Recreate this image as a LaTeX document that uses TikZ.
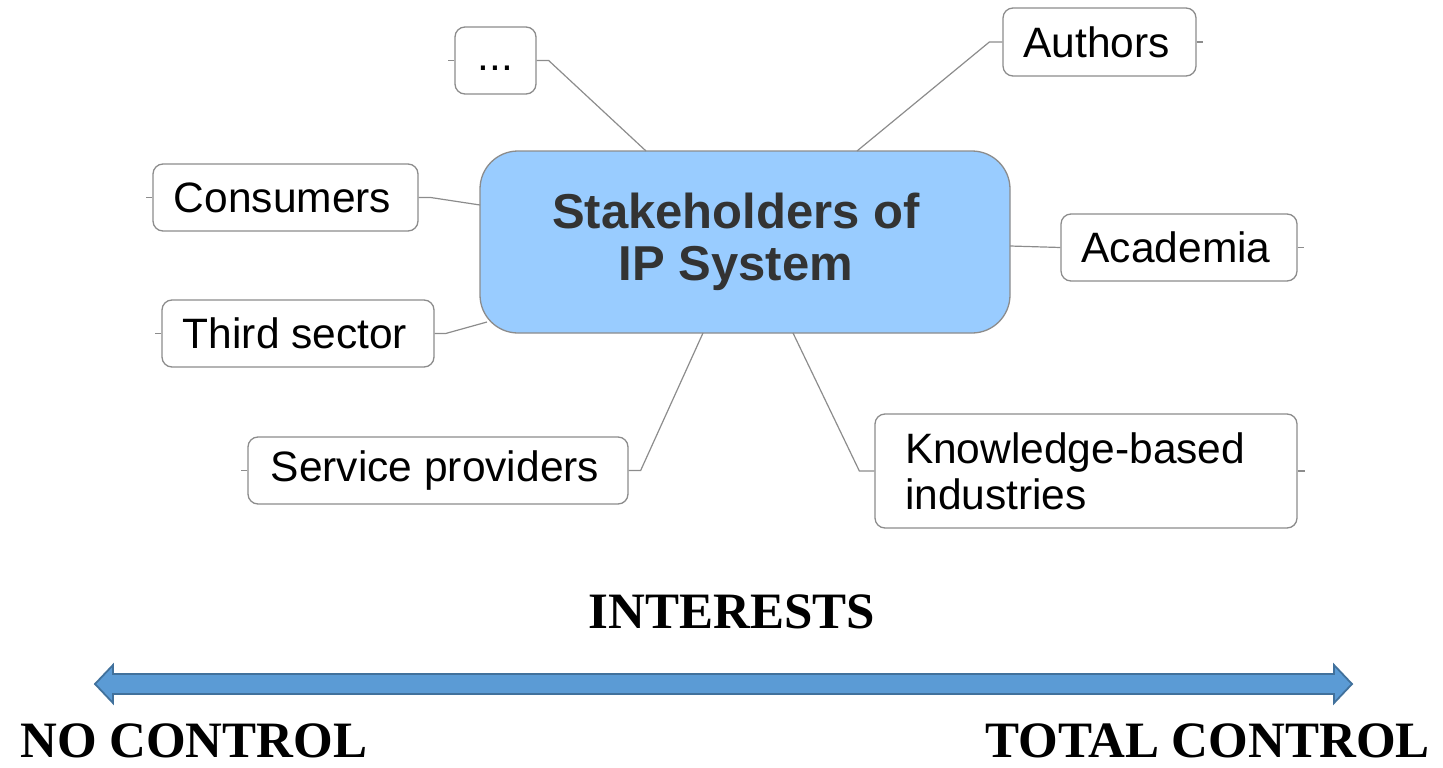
\documentclass[tikz,border=0pt]{standalone}
\usepackage{fontspec}
\setmainfont{Liberation Serif}
\setsansfont{Liberation Sans}
\definecolor{cfill}{RGB}{153,204,255}
\definecolor{cborder}{RGB}{140,140,140}
\definecolor{lnk}{RGB}{140,140,140}
\definecolor{arrfill}{RGB}{91,155,213}
\definecolor{arrdraw}{RGB}{65,113,156}
\definecolor{ctext}{RGB}{51,51,51}
\begin{document}
\begin{tikzpicture}[x=1pt,y=-1pt,
  leaf/.style={draw=cborder, line width=1.3pt, rounded corners=10pt, fill=white,
    inner sep=0pt, font=\sffamily\fontsize{42.5}{48}\selectfont, text=black, anchor=center},
  hub/.style={draw=cborder, line width=1.3pt, rounded corners=38pt, fill=cfill,
    inner sep=0pt, font=\sffamily\bfseries\fontsize{49}{54}\selectfont, text=ctext, align=center},
  link/.style={draw=lnk, line width=1.2pt},
  label/.style={font=\rmfamily\bfseries\fontsize{51}{56}\selectfont, inner sep=0pt},
  axis/.style={draw=arrdraw, line width=1.8pt, fill=arrfill, line join=miter}]
\useasboundingbox (0,0) rectangle (1443,768);

% center
\node[hub, minimum width=530pt, minimum height=182pt] (c) at (745,242)
  {Stakeholders of\hspace*{18pt}\\[-2pt]IP System\hspace*{18pt}};

% leaves
\node[leaf, minimum width=81pt, minimum height=67pt] (dots) at (495.5,60.5) {\vphantom{Ag}...};
\node[leaf, minimum width=193pt, minimum height=68pt] (auth) at (1099.5,42) {Authors\hspace*{6pt}};
\node[leaf, minimum width=265pt, minimum height=67pt] (cons) at (285.5,197.5) {Consumers\hspace*{6pt}};
\node[leaf, minimum width=236pt, minimum height=67pt] (acad) at (1179,247.5) {Academia\hspace*{6pt}};
\node[leaf, minimum width=272pt, minimum height=67pt] (third) at (298,333.5) {Third sector\hspace*{6pt}};
\node[leaf, minimum width=380pt, minimum height=67pt] (serv) at (438,470.5) {Service providers\hspace*{6pt}};
\node[leaf, minimum width=422pt, minimum height=114pt, align=left, text width=362pt,
  font=\sffamily\fontsize{42.5}{46}\selectfont] (know) at (1086,471) {Knowledge-based\\industries};

% attachment points on center box
\coordinate (pDots) at (646,151);
\coordinate (pAuth) at (857,151);
\coordinate (pCons) at (480,205);
\coordinate (pAcad) at (1010,246);
\coordinate (pThird) at (487,322);
\coordinate (pServ) at (703,333);
\coordinate (pKnow) at (793,333);

% connectors
\draw[link] (dots.east) -- ++(12,0) -- (pDots);
\draw[link] (auth.west) -- ++(-13,0) -- (pAuth);
\draw[link] (cons.east) -- ++(12,0) -- (pCons);
\draw[link] (acad.west) -- (pAcad);
\draw[link] (third.east) -- ++(11,0) -- (pThird);
\draw[link] (serv.east) -- ++(12,0) -- (pServ);
\draw[link] (know.west) -- ++(-15,0) -- (pKnow);

% stubs
\draw[link] (dots.west) -- ++(-6,0);
\draw[link] (auth.east) -- ++(6,0);
\draw[link] (cons.west) -- ++(-6,0);
\draw[link] (acad.east) -- ++(6,0);
\draw[link] (third.west) -- ++(-6,0);
\draw[link] (serv.west) -- ++(-6,0);
\draw[link] (know.east) -- ++(7,0);

% scale
\node[label] (int) at (732,612) {INTERESTS};
\draw[axis] (95,684) -- (113,665) -- (113,674) -- (1334,674) -- (1334,665) -- (1352,684)
  -- (1334,703) -- (1334,694) -- (113,694) -- (113,703) -- cycle;
\node[label, anchor=base west] (noc) at (20,757) {NO CONTROL};
\node[label, anchor=base east] (totc) at (1430,757) {TOTAL CONTROL};
\end{tikzpicture}
\end{document}
